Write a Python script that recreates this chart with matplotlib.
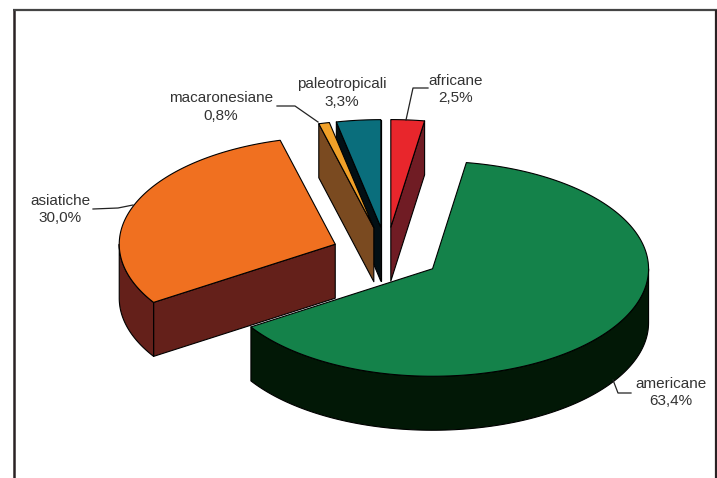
import numpy as np
import matplotlib
matplotlib.use("Agg")
import matplotlib.pyplot as plt
from matplotlib.patches import Polygon

categories = ["africane", "americane", "asiatiche", "macaronesiane", "paleotropicali"]
values = [2.5, 63.4, 30.0, 0.8, 3.3]
top_colors = ["#e8262c", "#14824a", "#f07020", "#f0a028", "#0a6e7c"]
side_colors = ["#701c24", "#021806", "#64201a", "#7a4a20", "#020f14"]
label_pos = [(456, 89.5), (671, 392.5), (60, 209.5), (221, 107), (342, 93)]
leaders = [
    [(428, 88), (413, 88), (406, 120)],
    [(631, 393), (618, 393), (613, 380)],
    [(93, 209), (118, 208), (133, 205)],
    [(277, 106), (295, 106), (318, 122)],
]

CX, CY = 386.5, 254.0
A, B, DEPTH = 216.0, 107.5, 54.0
EX_A, EX_B = 55.0, 27.0

plt.rcParams["font.family"] = ["Liberation Sans", "DejaVu Sans"]
fig = plt.figure(figsize=(7.17, 4.78), dpi=100, facecolor="white")
ax = fig.add_axes([0, 0, 1, 1])
ax.set_xlim(0, 717)
ax.set_ylim(478, 0)
ax.axis("off")

fractions = np.array(values) / sum(values) * 2 * np.pi
ends = np.cumsum(fractions)
starts = ends - fractions
mids = (starts + ends) / 2
cxs = CX + EX_A * np.sin(mids)
cys = CY - EX_B * np.cos(mids)


def rim(t, cx, cy):
    return np.column_stack([cx + A * np.sin(t), cy - B * np.cos(t)])


def poly(pts, color, z):
    ax.add_patch(Polygon(pts, closed=True, facecolor=color, edgecolor="black",
                         linewidth=0.8, joinstyle="round", zorder=z))


for rank, i in enumerate(np.argsort(cys)):
    s, e, cx, cy = starts[i], ends[i], cxs[i], cys[i]
    z = 2 + rank
    down = np.array([0, DEPTH])
    apex = np.array([[cx, cy]])
    walls = []
    if np.sin(s) < 0:
        walls.append(s)
    if np.sin(e) > 0:
        walls.append(e)
    for w in walls:
        edge = rim(np.array([w]), cx, cy)
        poly(np.vstack([apex, edge, edge + down, apex + down]), side_colors[i], z)
    lo, hi = max(s, np.pi / 2), min(e, 3 * np.pi / 2)
    if hi > lo:
        arc = rim(np.linspace(lo, hi, 120), cx, cy)
        poly(np.vstack([arc, (arc + down)[::-1]]), side_colors[i], z)
    arc = rim(np.linspace(s, e, 160), cx, cy)
    poly(np.vstack([apex, arc]), top_colors[i], z)

for pts in leaders:
    xs, ys = zip(*pts)
    ax.plot(xs, ys, color="#222222", lw=0.9, zorder=20)

for name, v, (x, y) in zip(categories, values, label_pos):
    ax.text(x, y, f"{name}\n{v:.1f}%".replace(".", ","), ha="center", va="center",
            fontsize=11, color="#333333", linespacing=1.3, zorder=21)

ax.plot([13.5, 13.5], [478, 9.5], color="#2a2224", lw=1.8, zorder=30, solid_capstyle="butt")
ax.plot([13, 717], [9.5, 9.5], color="#444444", lw=1.6, zorder=30, solid_capstyle="butt")
ax.plot([716.3, 716.3], [9.5, 478], color="#2a2224", lw=1.6, zorder=30, solid_capstyle="butt")

fig.savefig("out.png", dpi=100)
